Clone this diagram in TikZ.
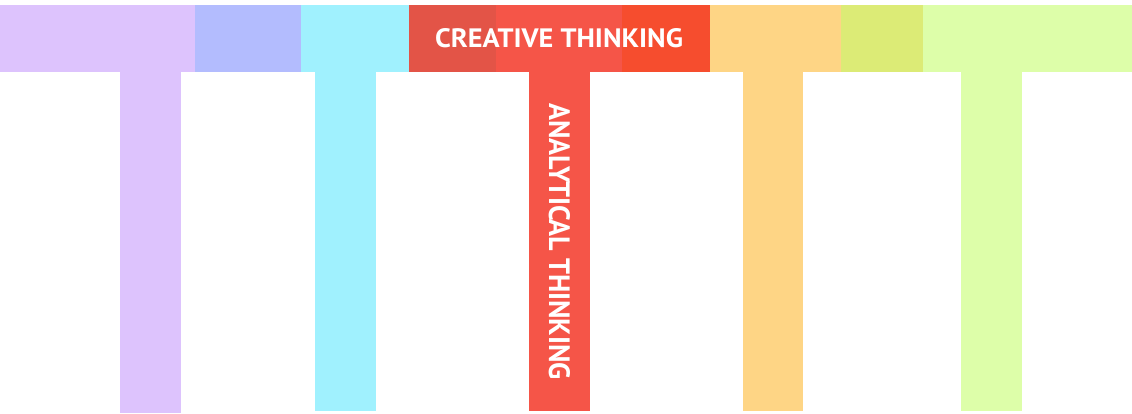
\documentclass[tikz,border=0pt]{standalone}
\usepackage{fontspec}
\setmainfont{PT Sans}
\definecolor{cPurple}{HTML}{DDC3FD}
\definecolor{cBlue}{HTML}{B3BCFE}
\definecolor{cCyan}{HTML}{A0F1FE}
\definecolor{cRedA}{HTML}{E35447}
\definecolor{cRedB}{HTML}{F55548}
\definecolor{cRedC}{HTML}{F64D2E}
\definecolor{cOrange}{HTML}{FED585}
\definecolor{cLime}{HTML}{DCEB76}
\definecolor{cGreen}{HTML}{DDFEA9}
\begin{document}
\begin{tikzpicture}[x=1pt,y=-1pt,
  blk/.style={draw=none,inner sep=0pt,outer sep=0pt,anchor=north west,rectangle},
  lbl/.style={text=white,inner sep=0pt,outer sep=0pt,font=\bfseries}]
\useasboundingbox (0,0) rectangle (1132,413);
% top band
\node[blk,fill=cPurple,minimum width=195pt,minimum height=67pt] (b1) at (0,5) {};
\node[blk,fill=cBlue,minimum width=106pt,minimum height=67pt] (b2) at (195,5) {};
\node[blk,fill=cCyan,minimum width=108pt,minimum height=67pt] (b3) at (301,5) {};
\node[blk,fill=cRedA,minimum width=87pt,minimum height=67pt] (b4) at (409,5) {};
\node[blk,fill=cRedB,minimum width=126pt,minimum height=67pt] (b5) at (496,5) {};
\node[blk,fill=cRedC,minimum width=88pt,minimum height=67pt] (b6) at (622,5) {};
\node[blk,fill=cOrange,minimum width=131pt,minimum height=67pt] (b7) at (710,5) {};
\node[blk,fill=cLime,minimum width=82pt,minimum height=67pt] (b8) at (841,5) {};
\node[blk,fill=cGreen,minimum width=209pt,minimum height=67pt] (b9) at (923,5) {};
% columns
\node[blk,fill=cPurple,minimum width=61pt,minimum height=341pt] (c1) at (120,72) {};
\node[blk,fill=cCyan,minimum width=61pt,minimum height=339pt] (c2) at (315,72) {};
\node[blk,fill=cRedB,minimum width=61pt,minimum height=339pt] (c3) at (529,72) {};
\node[blk,fill=cOrange,minimum width=60pt,minimum height=339pt] (c4) at (743,72) {};
\node[blk,fill=cGreen,minimum width=61pt,minimum height=339pt] (c5) at (961,72) {};
% labels
\node[lbl] (t1) at (559,38.5) {\resizebox{248pt}{19pt}{CREATIVE THINKING}};
\node[lbl,rotate=-90] (t2) at (559.5,241.5) {\resizebox{277pt}{21pt}{ANALYTICAL THINKING}};
\end{tikzpicture}
\end{document}
